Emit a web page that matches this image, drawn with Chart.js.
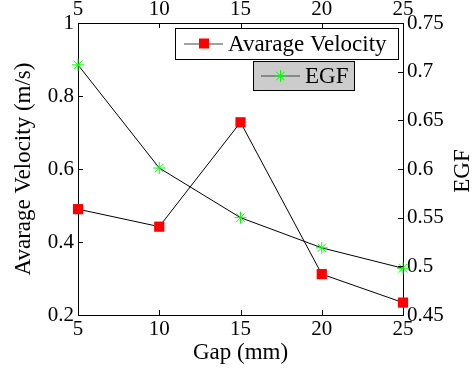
<!DOCTYPE html>
<html><head><meta charset="utf-8">
<script src="https://cdn.jsdelivr.net/npm/chart.js@4/dist/chart.umd.min.js"></script>
<style>html,body{margin:0;padding:0;background:#fff}#wrap{width:472px;height:368px;position:relative}</style>
</head><body><div id="wrap"><canvas id="c" width="472" height="368"></canvas></div>
<script>
const gaps = [5, 10, 15, 20, 25];
const velocity = [0.490, 0.442, 0.728, 0.312, 0.234];
const egf = [0.707, 0.601, 0.550, 0.519, 0.498];
const xTicks = [5, 10, 15, 20, 25];
const leftTicks = [0.2, 0.4, 0.6, 0.8, 1];
const rightTicks = [0.45, 0.5, 0.55, 0.6, 0.65, 0.7, 0.75];
const rightMinorTicks = [0.475, 0.525, 0.575, 0.625, 0.675, 0.725];
const seriesNames = ['Avarage Velocity', 'EGF'];
const axisTitles = { x: 'Gap (mm)', y: 'Avarage Velocity (m/s)', y2: 'EGF' };

const FONT = 'Liberation Serif, Times New Roman, serif';
const FS = 21;   // tick labels
const TFS = 23;  // titles and legend

function tickObjs(arr) { return arr.map(v => ({ value: v })); }

const axisStyle = {
  grid: { display: true, drawOnChartArea: false, drawTicks: false },
  border: { display: true, color: '#000', width: 1 },
};

const inwardTicks = {
  id: 'inwardTicks',
  afterDraw(chart) {
    const ctx = chart.ctx, a = chart.chartArea, L = 5;
    ctx.save();
    ctx.strokeStyle = '#000';
    ctx.lineWidth = 1;
    ctx.beginPath();
    for (const id of ['x', 'x2']) {
      const s = chart.scales[id];
      s.ticks.forEach(t => {
        const px = Math.round(s.getPixelForValue(t.value)) + 0.5;
        if (id === 'x') { ctx.moveTo(px, a.bottom); ctx.lineTo(px, a.bottom - L); }
        else { ctx.moveTo(px, a.top); ctx.lineTo(px, a.top + L); }
      });
    }
    const y = chart.scales.y;
    y.ticks.forEach(t => {
      const py = Math.round(y.getPixelForValue(t.value)) + 0.5;
      ctx.moveTo(a.left, py); ctx.lineTo(a.left + L, py);
    });
    const y2 = chart.scales.y2;
    y2.ticks.forEach(t => {
      const py = Math.round(y2.getPixelForValue(t.value)) + 0.5;
      ctx.moveTo(a.right, py); ctx.lineTo(a.right - L, py);
    });
    ctx.stroke();
    ctx.restore();
  }
};

function drawStar(ctx, x, y, r, color) {
  ctx.save();
  ctx.strokeStyle = color; ctx.lineWidth = 1;
  ctx.beginPath();
  for (let k = 0; k < 4; k++) {
    const ang = k * Math.PI / 4;
    ctx.moveTo(x - r * Math.cos(ang), y - r * Math.sin(ang));
    ctx.lineTo(x + r * Math.cos(ang), y + r * Math.sin(ang));
  }
  ctx.stroke();
  ctx.restore();
}

const customLegend = {
  id: 'customLegend',
  afterDraw(chart) {
    const ctx = chart.ctx, a = chart.chartArea;
    ctx.save();
    ctx.font = TFS + 'px ' + FONT;
    ctx.textBaseline = 'middle';
    ctx.textAlign = 'left';
    // box 1
    let bx = a.right - 228, by = a.top + 5, bw = 223, bh = 31;
    ctx.fillStyle = '#fff'; ctx.fillRect(bx, by, bw, bh);
    ctx.strokeStyle = '#000'; ctx.lineWidth = 1;
    ctx.strokeRect(bx + 0.5, by + 0.5, bw, bh);
    let cy = by + bh / 2;
    ctx.strokeStyle = '#444';
    ctx.beginPath(); ctx.moveTo(bx + 9, cy + 0.5); ctx.lineTo(bx + 48, cy + 0.5); ctx.stroke();
    ctx.fillStyle = '#ff0000'; ctx.fillRect(bx + 29 - 5, cy - 5, 10, 10);
    ctx.fillStyle = '#000'; ctx.fillText(seriesNames[0], bx + 53, cy + 1);
    // box 2
    bx = a.right - 150; by = a.top + 38; bw = 101; bh = 29;
    ctx.fillStyle = '#cccccc'; ctx.fillRect(bx, by, bw, bh);
    ctx.strokeStyle = '#000';
    ctx.strokeRect(bx + 0.5, by + 0.5, bw, bh);
    cy = by + bh / 2;
    ctx.strokeStyle = '#444';
    ctx.beginPath(); ctx.moveTo(bx + 8, cy + 0.5); ctx.lineTo(bx + 47, cy + 0.5); ctx.stroke();
    drawStar(ctx, bx + 27.5, cy + 0.5, 6, '#00ff00');
    ctx.fillStyle = '#000'; ctx.fillText(seriesNames[1], bx + 52, cy + 1);
    ctx.restore();
  }
};

const rightTitle = {
  id: 'rightTitle',
  afterDraw(chart) {
    const ctx = chart.ctx, a = chart.chartArea;
    ctx.save();
    ctx.font = TFS + 'px ' + FONT;
    ctx.fillStyle = '#000';
    ctx.textAlign = 'center';
    ctx.textBaseline = 'middle';
    ctx.translate(chart.width - 9, (a.top + a.bottom) / 2 + 2);
    ctx.rotate(-Math.PI / 2);
    ctx.fillText(axisTitles.y2, 0, 0);
    ctx.restore();
  }
};

Chart.defaults.font.family = FONT;
Chart.defaults.font.size = FS;
Chart.defaults.color = '#000';

new Chart(document.getElementById('c'), {
  type: 'line',
  data: {
    datasets: [
      {
        label: seriesNames[0],
        data: gaps.map((g, i) => ({ x: g, y: velocity[i] })),
        yAxisID: 'y', xAxisID: 'x',
        borderColor: '#000', borderWidth: 1,
        pointStyle: 'rect', pointRadius: 7.2, pointHoverRadius: 7.2,
        pointBackgroundColor: '#ff0000', pointBorderColor: '#ff0000', pointBorderWidth: 0,
        clip: false, tension: 0
      },
      {
        label: seriesNames[1],
        data: gaps.map((g, i) => ({ x: g, y: egf[i] })),
        yAxisID: 'y2', xAxisID: 'x',
        borderColor: '#000', borderWidth: 1,
        pointStyle: 'star', pointRadius: 6, pointHoverRadius: 6,
        pointBackgroundColor: '#00ff00', pointBorderColor: '#00ff00', pointBorderWidth: 1,
        clip: false, tension: 0
      }
    ]
  },
  options: {
    responsive: false,
    animation: false,
    layout: { padding: 0 },
    plugins: { legend: { display: false }, tooltip: { enabled: false } },
    scales: {
      x: {
        type: 'linear', position: 'bottom', min: 5, max: 25,
        afterBuildTicks: s => { s.ticks = tickObjs(xTicks); },
        afterFit: s => { s.height = 53; },
        ticks: { padding: 2, maxRotation: 0, callback: v => String(v) },
        title: { display: true, text: axisTitles.x, font: { size: TFS }, padding: { top: 0, bottom: 1 } },
        ...axisStyle
      },
      x2: {
        type: 'linear', position: 'top', min: 5, max: 25,
        afterBuildTicks: s => { s.ticks = tickObjs(xTicks); },
        afterFit: s => { s.height = 23; },
        ticks: { padding: 1, maxRotation: 0, callback: v => String(v) },
        ...axisStyle
      },
      y: {
        type: 'linear', position: 'left', min: 0.2, max: 1,
        afterBuildTicks: s => { s.ticks = tickObjs(leftTicks); },
        afterFit: s => { s.width = 78; },
        ticks: { padding: 4, callback: v => String(v) },
        title: { display: true, text: axisTitles.y, font: { size: TFS }, padding: { top: 10, bottom: 0 } },
        ...axisStyle
      },
      y2: {
        type: 'linear', position: 'right', min: 0.45, max: 0.75,
        afterBuildTicks: s => { s.ticks = tickObjs(rightTicks.concat(rightMinorTicks).sort((p, q) => p - q)); },
        afterFit: s => { s.width = 69; },
        ticks: { padding: 4, callback: v => rightTicks.some(t => Math.abs(t - v) < 1e-9) ? String(v) : '' },
        ...axisStyle
      }
    }
  },
  plugins: [inwardTicks, customLegend, rightTitle]
});
</script>
</body></html>
